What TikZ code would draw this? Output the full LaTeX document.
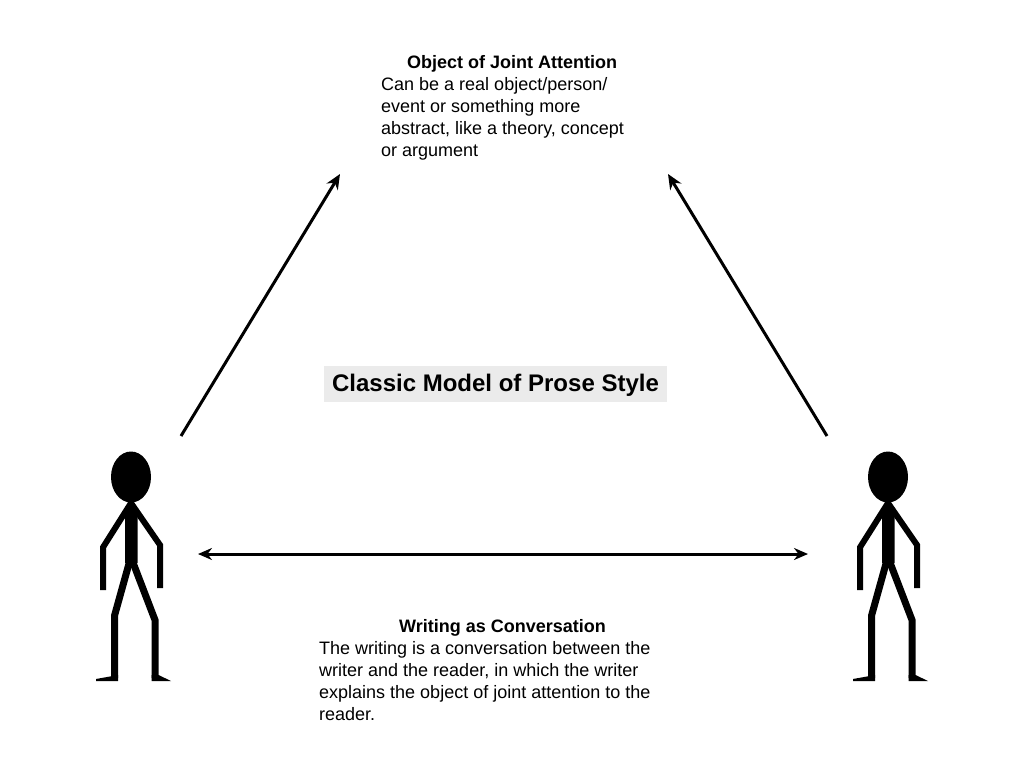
\documentclass[tikz,border=0pt]{standalone}
\usepackage{fontspec}
\setmainfont{Liberation Sans}
\usetikzlibrary{arrows.meta}
\tikzset{
  bodytext/.style={anchor=north west,align=left,inner sep=0pt,font=\fontsize{18}{22.2}\selectfont},
  headtext/.style={anchor=north west,inner sep=0pt,font=\fontsize{18}{22}\selectfont\bfseries},
  titlebox/.style={fill=black!8,inner sep=0pt,minimum width=343,minimum height=36.5,text height=17.5pt,text depth=2pt,font=\fontsize{24}{28}\selectfont\bfseries},
  conn/.style={line width=3pt,-{Stealth[length=15pt,width=13pt]}},
  biconn/.style={line width=3pt,{Stealth[length=14pt,width=12pt]}-{Stealth[length=14pt,width=12pt]}},
  stick/.style={line join=miter,line cap=butt},
  stickman/.pic={
    \fill (131,477) ellipse [x radius=20, y radius=25.5];
    \fill (131,498) -- (137.5,510) -- (137.5,563) -- (125,563) -- (125,510) -- cycle;
    \draw[stick,line width=6pt] (131,503) -- (103.2,547) -- (103.2,590);
    \draw[stick,line width=6pt] (131,503) -- (160,545) -- (160,588);
    \draw[stick,line width=7pt] (130,560) -- (114.7,615) -- (114.7,678);
    \draw[stick,line width=7pt] (132,560) -- (155,620) -- (155,678);
    \fill (118.2,675) -- (118.2,681) -- (96,681) -- (96,679) -- cycle;
    \fill (151.5,675) -- (158.5,675) -- (171,681) -- (151.5,681) -- cycle;
  }
}
\begin{document}
\begin{tikzpicture}[x=1pt,y=-1pt]
\useasboundingbox (0,0) rectangle (1024,768);
\pic at (0,0) {stickman};
\pic at (757,0) {stickman};
\node[titlebox] (title) at (495.5,384) {Classic Model of Prose Style};
\node[headtext] (objhead) at (407,55) {Object of Joint Attention};
\node[bodytext] (objbody) at (381,77) {Can be a real object/person/\\event or something more\\abstract, like a theory, concept\\or argument};
\node[headtext] (convhead) at (399,619) {Writing as Conversation};
\node[bodytext] (convbody) at (319,641) {The writing is a conversation between the\\writer and the reader, in which the writer\\explains the object of joint attention to the\\reader.};
\coordinate (wtop) at (181,436);
\coordinate (rtop) at (827,436);
\coordinate (objl) at (340,174);
\coordinate (objr) at (668,174);
\coordinate (wmid) at (198,554);
\coordinate (rmid) at (808,554);
\draw[conn] (wtop) -- (objl);
\draw[conn] (rtop) -- (objr);
\draw[biconn] (wmid) -- (rmid);
\end{tikzpicture}
\end{document}
